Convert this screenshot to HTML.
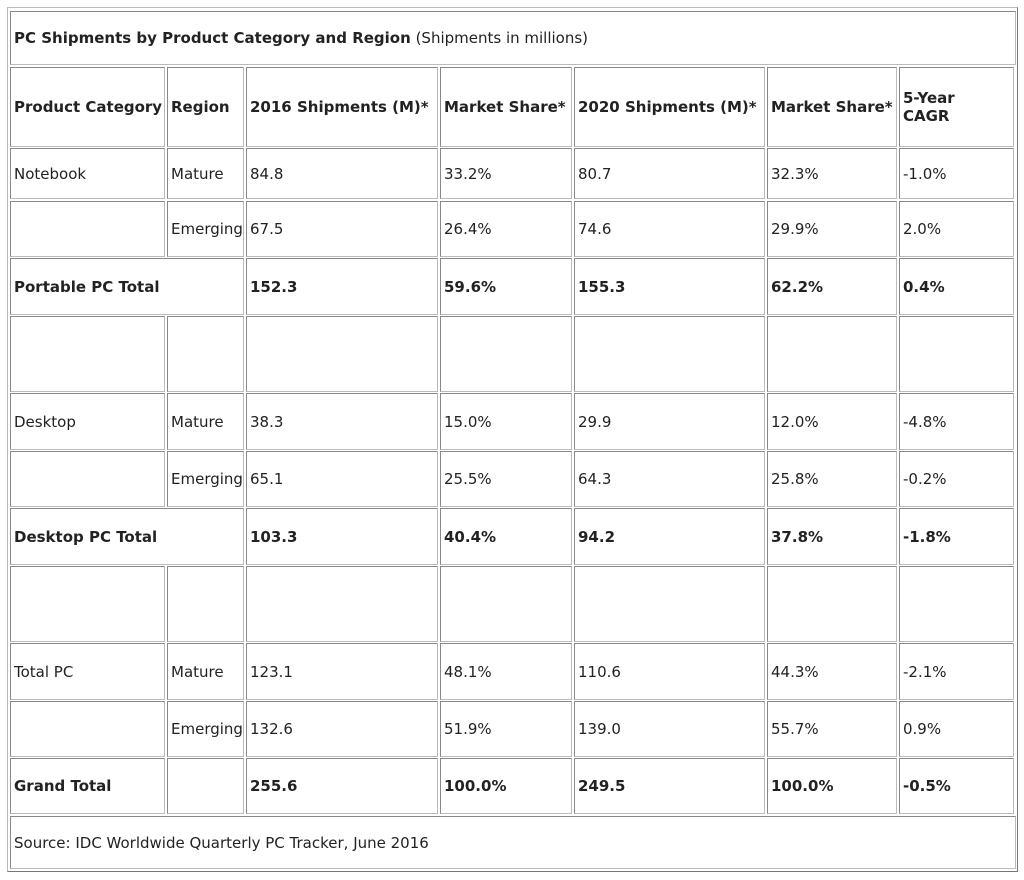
<!DOCTYPE html>
<html><head><meta charset="utf-8"><style>
body{margin:0;background:#fff;width:1024px;height:880px;position:relative;font-family:"DejaVu Sans",Verdana,sans-serif;font-size:15px;color:#222;}
.o{position:absolute;left:7px;top:7px;width:1009px;height:863px;border:1px solid #bbb;border-right-color:#777;border-bottom-color:#777;}
.c{position:absolute;box-sizing:border-box;border:1px solid #888;border-right-color:#bbb;border-bottom-color:#bbb;display:flex;align-items:center;padding-left:3px;line-height:18px;white-space:nowrap;}
.b{font-weight:bold;}
</style></head><body>
<div class="o"></div>
<div id="t"></div>
<script>
var X=[10,167,246,440,574,767,899,1016];
var R=[[67,147],[148,199],[201,257],[258,315],[316,392],[393,450],[451,507],[508,565],[566,642],[643,700],[701,757],[758,814]];
var d=[
["Product Category","Region","2016 Shipments (M)*","Market Share*","2020 Shipments (M)*","Market Share*","5-Year<br>CAGR",1],
["Notebook","Mature","84.8","33.2%","80.7","32.3%","-1.0%",0],
["","Emerging","67.5","26.4%","74.6","29.9%","2.0%",0],
["Portable PC Total","","152.3","59.6%","155.3","62.2%","0.4%",2],
["","","","","","","",0],
["Desktop","Mature","38.3","15.0%","29.9","12.0%","-4.8%",0],
["","Emerging","65.1","25.5%","64.3","25.8%","-0.2%",0],
["Desktop PC Total","","103.3","40.4%","94.2","37.8%","-1.8%",2],
["","","","","","","",0],
["Total PC","Mature","123.1","48.1%","110.6","44.3%","-2.1%",0],
["","Emerging","132.6","51.9%","139.0","55.7%","0.9%",0],
["Grand Total","","255.6","100.0%","249.5","100.0%","-0.5%",1]];
var h='<div class="c" style="left:10px;top:11px;width:1006px;height:54px"><span><b>PC Shipments by Product Category and Region</b> (Shipments in millions)</span></div>';
d.forEach(function(r,i){var y=R[i][0],hh=R[i][1]-y;
 if(r[7]==2){h+='<div class="c b" style="left:10px;top:'+y+'px;width:234px;height:'+hh+'px">'+r[0]+'</div>';}
 for(var j=0;j<7;j++){if(r[7]==2&&j<2)continue;
  h+='<div class="c'+(r[7]?' b':'')+'" style="left:'+X[j]+'px;top:'+y+'px;width:'+(X[j+1]-X[j]-2)+'px;height:'+hh+'px"><span>'+r[j]+'</span></div>';}
});
h+='<div class="c" style="left:10px;top:816px;width:1006px;height:53px">Source: IDC Worldwide Quarterly PC Tracker, June 2016</div>';
document.getElementById('t').innerHTML=h;
</script>
</body></html>
